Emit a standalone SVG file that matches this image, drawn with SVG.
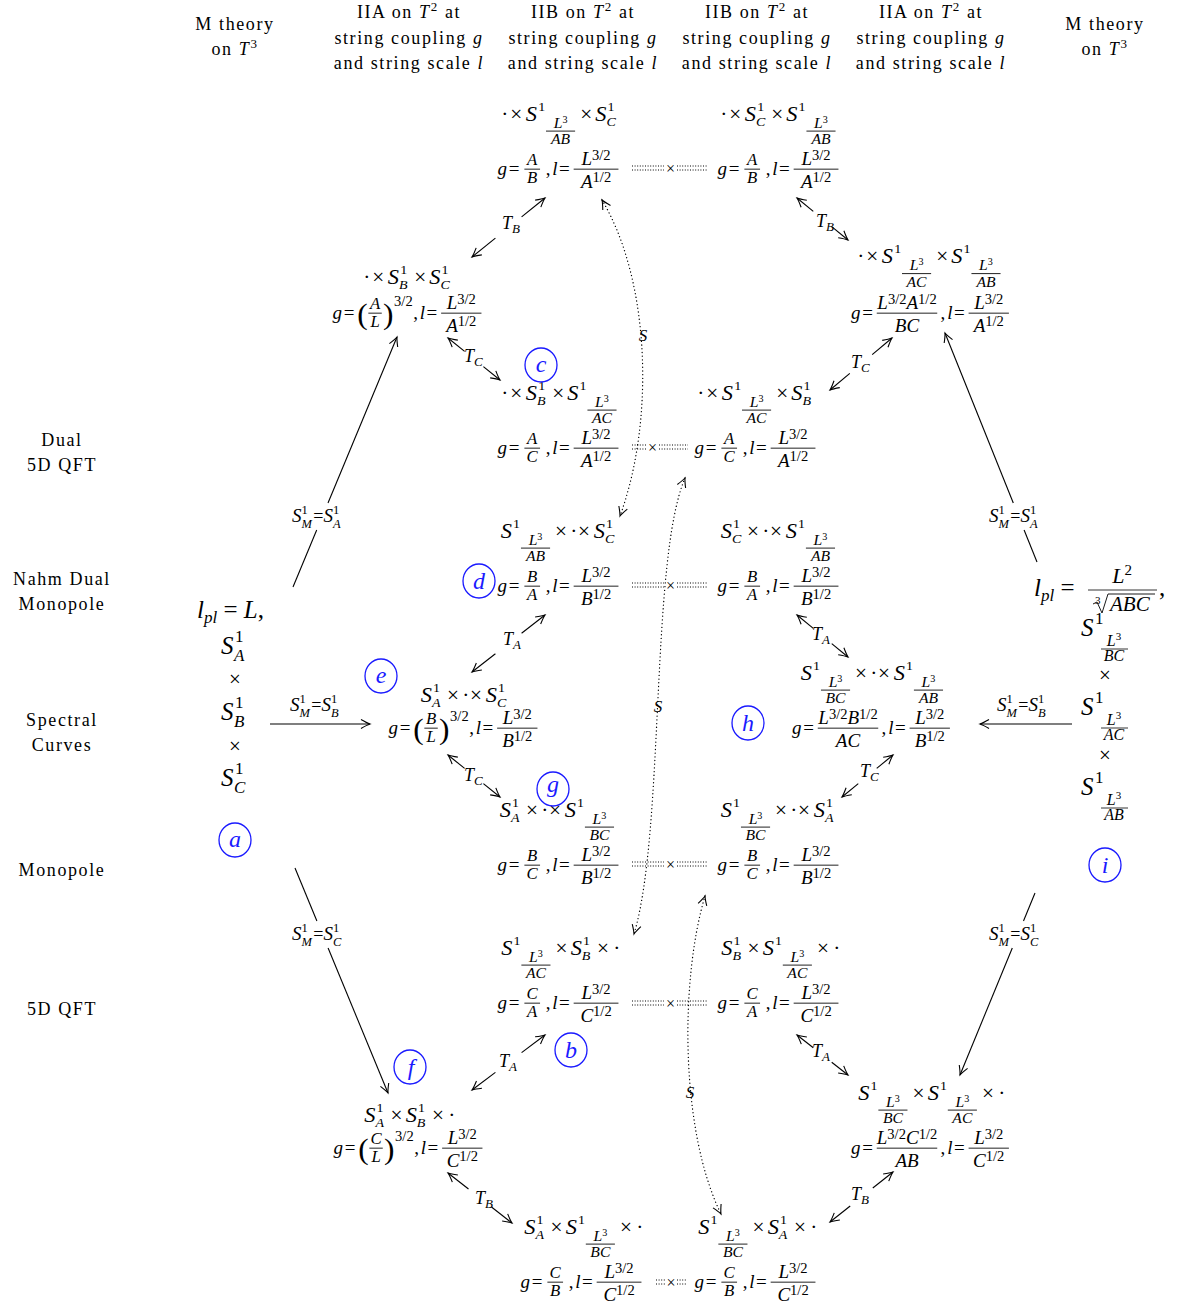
<svg xmlns="http://www.w3.org/2000/svg" width="1186" height="1309" viewBox="0 0 1186 1309">
<style>
text{font-family:"Liberation Serif","Times New Roman",serif;fill:#000}
.hd{font-size:18px;letter-spacing:1.6px;text-anchor:middle}
.it{font-style:italic}
.hs{font-size:13px}
.m{font-size:20px;font-style:italic}
.o{font-size:19px}
.p{font-size:12.5px}
.q{font-size:12.5px;font-style:italic}
.fn{font-size:14px;font-style:italic;text-anchor:middle}
.t{font-size:9px;font-style:normal}
.g{font-size:17px;font-style:italic}
.e{font-size:17px}
.sf{font-size:15px;font-style:italic;text-anchor:middle}
.bf{font-size:17px;font-style:italic;text-anchor:middle}
.h{font-size:13px;font-style:normal}
.pa{font-size:28px}
.fb{stroke:#000;stroke-width:0.8}
.ar{fill:none;stroke:#000;stroke-width:1.1}
.sd{fill:none;stroke:#000;stroke-width:1.3;stroke-dasharray:0.1 3.6;stroke-linecap:round}
.dd{stroke:#000;stroke-width:1;stroke-dasharray:1 1.6}
.dx{font-size:16px;text-anchor:middle}
.tl{font-size:18px;font-style:italic}
.ts{font-size:13px}
.ml{font-size:19px;font-style:italic}
.mp{font-size:12.5px;font-style:normal}
.mq{font-size:12.5px}
.me{font-size:18px;font-style:normal}
.sl{font-size:17px;font-style:italic;text-anchor:middle}
.lm{font-size:25px;font-style:italic}
.ls{font-size:17px}
.up{font-style:normal}
.ms{font-size:25px;font-style:italic}
.ps{font-size:17px}
.qs{font-size:17px;font-style:italic}
.xs{font-size:21px;text-anchor:middle}
.rf{font-size:16px;font-style:italic;text-anchor:middle}
.rt{font-size:11px;font-style:normal}
.cl ellipse{fill:none;stroke:#1a1aff;stroke-width:1.3}
.cl text{fill:#1a1aff;font-size:24px;font-style:italic;text-anchor:middle}
</style>
<defs>
<marker id="ah" viewBox="-10 -6 12 12" refX="0" refY="0" markerWidth="12" markerHeight="12" markerUnits="userSpaceOnUse" orient="auto-start-reverse"><path d="M-9,-4.5 Q-3,-1 0,0 Q-3,1 -9,4.5" fill="none" stroke="#000" stroke-width="1.1"/></marker>
</defs>

<g id="header">
<text class="hd" x="235" y="30">M theory</text>
<text class="hd" x="235" y="55">on <tspan class="it">T</tspan><tspan class="hs" dy="-7">3</tspan></text>
<text class="hd" x="409" y="18">IIA on <tspan class="it">T</tspan><tspan class="hs" dy="-7">2</tspan><tspan dy="7"> at</tspan></text>
<text class="hd" x="409" y="44">string coupling <tspan class="it">g</tspan></text>
<text class="hd" x="409" y="69">and string scale <tspan class="it">l</tspan></text>
<text class="hd" x="583" y="18">IIB on <tspan class="it">T</tspan><tspan class="hs" dy="-7">2</tspan><tspan dy="7"> at</tspan></text>
<text class="hd" x="583" y="44">string coupling <tspan class="it">g</tspan></text>
<text class="hd" x="583" y="69">and string scale <tspan class="it">l</tspan></text>
<text class="hd" x="757" y="18">IIB on <tspan class="it">T</tspan><tspan class="hs" dy="-7">2</tspan><tspan dy="7"> at</tspan></text>
<text class="hd" x="757" y="44">string coupling <tspan class="it">g</tspan></text>
<text class="hd" x="757" y="69">and string scale <tspan class="it">l</tspan></text>
<text class="hd" x="931" y="18">IIA on <tspan class="it">T</tspan><tspan class="hs" dy="-7">2</tspan><tspan dy="7"> at</tspan></text>
<text class="hd" x="931" y="44">string coupling <tspan class="it">g</tspan></text>
<text class="hd" x="931" y="69">and string scale <tspan class="it">l</tspan></text>
<text class="hd" x="1105" y="30">M theory</text>
<text class="hd" x="1105" y="55">on <tspan class="it">T</tspan><tspan class="hs" dy="-7">3</tspan></text>
</g>

<g id="row-labels">
<text class="hd" x="62" y="446">Dual</text>
<text class="hd" x="62" y="471">5D QFT</text>
<text class="hd" x="62" y="585">Nahm Dual</text>
<text class="hd" x="62" y="610">Monopole</text>
<text class="hd" x="62" y="726">Spectral</text>
<text class="hd" x="62" y="751">Curves</text>
<text class="hd" x="62" y="876">Monopole</text>
<text class="hd" x="62" y="1015">5D QFT</text>
</g>

<g id="connectors">
<path class="ar" d="M293,587 L316.7,530"/>
<path class="ar" marker-end="url(#ah)" d="M328,503 L397,337"/>
<path class="ar" d="M295,868 L316.9,921"/>
<path class="ar" marker-end="url(#ah)" d="M328.1,948 L388,1093"/>
<path class="ar" marker-end="url(#ah)" d="M270,724 L370,724"/>
<path class="ar" d="M1037,562 L1024.1,530"/>
<path class="ar" marker-end="url(#ah)" d="M1013.3,503 L945,333"/>
<path class="ar" marker-end="url(#ah)" d="M1072,724 L980,724"/>
<path class="ar" d="M1035,893 L1023.5,921"/>
<path class="ar" marker-end="url(#ah)" d="M1012.3,948 L960,1075"/>
<text class="ml" x="292" y="522">S<tspan class="mp" dy="-8">1</tspan><tspan class="mq" dx="-6.3" dy="14">M</tspan><tspan class="me" dx="1.5" dy="-6">=</tspan>S<tspan class="mp" dy="-8">1</tspan><tspan class="mq" dx="-6.3" dy="14">A</tspan></text>
<text class="ml" x="292" y="940">S<tspan class="mp" dy="-8">1</tspan><tspan class="mq" dx="-6.3" dy="14">M</tspan><tspan class="me" dx="1.5" dy="-6">=</tspan>S<tspan class="mp" dy="-8">1</tspan><tspan class="mq" dx="-6.3" dy="14">C</tspan></text>
<text class="ml" x="290" y="711">S<tspan class="mp" dy="-8">1</tspan><tspan class="mq" dx="-6.3" dy="14">M</tspan><tspan class="me" dx="1.5" dy="-6">=</tspan>S<tspan class="mp" dy="-8">1</tspan><tspan class="mq" dx="-6.3" dy="14">B</tspan></text>
<text class="ml" x="989" y="522">S<tspan class="mp" dy="-8">1</tspan><tspan class="mq" dx="-6.3" dy="14">M</tspan><tspan class="me" dx="1.5" dy="-6">=</tspan>S<tspan class="mp" dy="-8">1</tspan><tspan class="mq" dx="-6.3" dy="14">A</tspan></text>
<text class="ml" x="997" y="711">S<tspan class="mp" dy="-8">1</tspan><tspan class="mq" dx="-6.3" dy="14">M</tspan><tspan class="me" dx="1.5" dy="-6">=</tspan>S<tspan class="mp" dy="-8">1</tspan><tspan class="mq" dx="-6.3" dy="14">B</tspan></text>
<text class="ml" x="989" y="940">S<tspan class="mp" dy="-8">1</tspan><tspan class="mq" dx="-6.3" dy="14">M</tspan><tspan class="me" dx="1.5" dy="-6">=</tspan>S<tspan class="mp" dy="-8">1</tspan><tspan class="mq" dx="-6.3" dy="14">C</tspan></text>

<path class="ar" marker-start="url(#ah)" d="M472,257 L495.4,238.1"/><path class="ar" marker-end="url(#ah)" d="M521.6,216.9 L545,198"/>
<text class="tl" x="502" y="229">T<tspan class="ts" dy="4">B</tspan></text>
<path class="ar" marker-start="url(#ah)" d="M797,198 L813.3,211.4"/><path class="ar" marker-end="url(#ah)" d="M831.7,226.6 L848,240"/>
<text class="tl" x="816" y="227">T<tspan class="ts" dy="4">B</tspan></text>
<path class="ar" marker-start="url(#ah)" d="M448,338 L464.6,351.4"/><path class="ar" marker-end="url(#ah)" d="M483.4,366.6 L500,380"/>
<text class="tl" x="464" y="362">T<tspan class="ts" dy="4">C</tspan></text>
<path class="ar" marker-start="url(#ah)" d="M830,390 L849.8,373.4"/><path class="ar" marker-end="url(#ah)" d="M872.2,354.6 L892,338"/>
<text class="tl" x="851" y="368">T<tspan class="ts" dy="4">C</tspan></text>
<path class="ar" marker-start="url(#ah)" d="M472,672 L495.4,653.8"/><path class="ar" marker-end="url(#ah)" d="M521.6,633.2 L545,615"/>
<text class="tl" x="503" y="645">T<tspan class="ts" dy="4">A</tspan></text>
<path class="ar" marker-start="url(#ah)" d="M797,615 L813.3,628.4"/><path class="ar" marker-end="url(#ah)" d="M831.7,643.6 L848,657"/>
<text class="tl" x="812" y="640">T<tspan class="ts" dy="4">A</tspan></text>
<path class="ar" marker-start="url(#ah)" d="M448,755 L464.6,768.4"/><path class="ar" marker-end="url(#ah)" d="M483.4,783.6 L500,797"/>
<text class="tl" x="464" y="781">T<tspan class="ts" dy="4">C</tspan></text>
<path class="ar" marker-start="url(#ah)" d="M842,797 L858.3,783.6"/><path class="ar" marker-end="url(#ah)" d="M876.7,768.4 L893,755"/>
<text class="tl" x="860" y="777">T<tspan class="ts" dy="4">C</tspan></text>
<path class="ar" marker-start="url(#ah)" d="M472,1090 L495.4,1072.4"/><path class="ar" marker-end="url(#ah)" d="M521.6,1052.6 L545,1035"/>
<text class="tl" x="499" y="1067">T<tspan class="ts" dy="4">A</tspan></text>
<path class="ar" marker-start="url(#ah)" d="M797,1035 L813.3,1047.8"/><path class="ar" marker-end="url(#ah)" d="M831.7,1062.2 L848,1075"/>
<text class="tl" x="812" y="1057">T<tspan class="ts" dy="4">A</tspan></text>
<path class="ar" marker-start="url(#ah)" d="M448,1173 L468.5,1189"/><path class="ar" marker-end="url(#ah)" d="M491.5,1207 L512,1223"/>
<text class="tl" x="475" y="1204">T<tspan class="ts" dy="4">B</tspan></text>
<path class="ar" marker-start="url(#ah)" d="M830,1222 L850.2,1206"/><path class="ar" marker-end="url(#ah)" d="M872.8,1188 L893,1172"/>
<text class="tl" x="851" y="1200">T<tspan class="ts" dy="4">B</tspan></text>

<path class="sd" marker-start="url(#ah)" marker-end="url(#ah)" d="M602,200 C650,280 655,420 620,516"/>
<text class="sl" x="643" y="341">S</text>
<path class="sd" marker-start="url(#ah)" marker-end="url(#ah)" d="M685,478 C650,560 665,830 634,934"/>
<text class="sl" x="658" y="712">S</text>
<path class="sd" marker-start="url(#ah)" marker-end="url(#ah)" d="M705,896 C680,980 680,1130 721,1214"/>
<text class="sl" x="690" y="1098">S</text>

<line class="dd" x1="632" x2="664" y1="166" y2="166"/><line class="dd" x1="632" x2="664" y1="170" y2="170"/><line class="dd" x1="677" x2="708" y1="166" y2="166"/><line class="dd" x1="677" x2="708" y1="170" y2="170"/><text class="dx" x="670.5" y="173.5">×</text>
<line class="dd" x1="632" x2="646" y1="445" y2="445"/><line class="dd" x1="632" x2="646" y1="449" y2="449"/><line class="dd" x1="659" x2="688" y1="445" y2="445"/><line class="dd" x1="659" x2="688" y1="449" y2="449"/><text class="dx" x="652.5" y="452.5">×</text>
<line class="dd" x1="632" x2="664" y1="583" y2="583"/><line class="dd" x1="632" x2="664" y1="587" y2="587"/><line class="dd" x1="677" x2="708" y1="583" y2="583"/><line class="dd" x1="677" x2="708" y1="587" y2="587"/><text class="dx" x="670.5" y="590.5">×</text>
<line class="dd" x1="632" x2="664" y1="862" y2="862"/><line class="dd" x1="632" x2="664" y1="866" y2="866"/><line class="dd" x1="677" x2="708" y1="862" y2="862"/><line class="dd" x1="677" x2="708" y1="866" y2="866"/><text class="dx" x="670.5" y="869.5">×</text>
<line class="dd" x1="632" x2="664" y1="1001" y2="1001"/><line class="dd" x1="632" x2="664" y1="1005" y2="1005"/><line class="dd" x1="677" x2="708" y1="1001" y2="1001"/><line class="dd" x1="677" x2="708" y1="1005" y2="1005"/><text class="dx" x="670.5" y="1008.5">×</text>
<line class="dd" x1="656" x2="665" y1="1280" y2="1280"/><line class="dd" x1="656" x2="665" y1="1284" y2="1284"/><line class="dd" x1="677" x2="686" y1="1280" y2="1280"/><line class="dd" x1="677" x2="686" y1="1284" y2="1284"/><text class="dx" x="671" y="1287.5">×</text>
</g>

<g id="m-left">
<text class="lm" x="197" y="618">l<tspan class="ls" dy="5">pl</tspan><tspan class="up" dy="-5"> = </tspan>L<tspan class="up">,</tspan></text>
<text class="ms" x="221" y="654">S</text><text class="ps" x="235" y="642">1</text><text class="qs" x="234" y="661">A</text>
<text class="xs" x="235" y="686">×</text>
<text class="ms" x="221" y="720">S</text><text class="ps" x="235" y="708">1</text><text class="qs" x="234" y="727">B</text>
<text class="xs" x="235" y="753">×</text>
<text class="ms" x="221" y="786">S</text><text class="ps" x="235" y="774">1</text><text class="qs" x="234" y="793">C</text>
</g>

<g id="m-right">
<text class="lm" x="1034" y="596">l<tspan class="ls" dy="5">pl</tspan><tspan class="up" dy="-5"> = </tspan></text>
<text class="lm" x="1122" y="583" style="font-size:22px;text-anchor:middle">L<tspan class="up" style="font-size:15px" dy="-8">2</tspan></text>
<line class="fb" x1="1088" x2="1157" y1="590" y2="590"/>
<text x="1095" y="604" style="font-size:11px">3</text>
<path d="M1093,604 L1097,602 L1102,613 L1108,594 L1155,594" fill="none" stroke="#000" stroke-width="0.9"/>
<text x="1110" y="611" style="font-size:21px;font-style:italic">ABC</text>
<text x="1159" y="596" style="font-size:25px">,</text>
<text class="ms" x="1081" y="636">S</text><text class="ps" x="1095" y="624">1</text><text class="rf" x="1114" y="646">L<tspan class="rt" dy="-6">3</tspan></text><line class="fb" x1="1101" x2="1128" y1="649" y2="649"/><text class="rf" x="1114" y="661">BC</text>
<text class="xs" x="1105" y="682">×</text>
<text class="ms" x="1081" y="715">S</text><text class="ps" x="1095" y="703">1</text><text class="rf" x="1114" y="725">L<tspan class="rt" dy="-6">3</tspan></text><line class="fb" x1="1101" x2="1128" y1="728" y2="728"/><text class="rf" x="1114" y="740">AC</text>
<text class="xs" x="1105" y="762">×</text>
<text class="ms" x="1081" y="795">S</text><text class="ps" x="1095" y="783">1</text><text class="rf" x="1114" y="805">L<tspan class="rt" dy="-6">3</tspan></text><line class="fb" x1="1101" x2="1128" y1="808" y2="808"/><text class="rf" x="1114" y="820">AB</text>
</g>

<g id="n-iib-top-1">
<g transform="translate(501.2,120.5) scale(1.12,1.06)">
<text class="o" x="0">·</text><text class="o" x="8">×</text>
<text class="m" x="22">S</text><text class="p" x="33" y="-9">1</text><text class="fn" x="53" y="7">L<tspan class="t" dy="-5">3</tspan></text><line class="fb" x1="40" x2="66" y1="10" y2="10"/><text class="fn" x="53" y="22.5">AB</text>
<text class="o" x="70.5">×</text>
<text class="m" x="84">S</text><text class="p" x="95" y="-9">1</text><text class="q" x="94" y="5">C</text>
</g>
<g transform="translate(497.5,175) scale(1.12,1.06)">
<text class="g" x="0">g</text><text class="e" x="10">=</text>
<text class="sf" x="31" y="-9">A</text><line class="fb" x1="24" x2="38" y1="-5.5" y2="-5.5"/><text class="sf" x="31" y="7.5">B</text>
<text class="e" x="43">,</text><text class="g" x="49">l</text><text class="e" x="55">=</text>
<text class="bf" x="88" y="-9">L<tspan class="h" dy="-5">3/2</tspan></text><line class="fb" x1="68" x2="108" y1="-5.5" y2="-5.5"/><text class="bf" x="88" y="12">A<tspan class="h" dy="-5">1/2</tspan></text>
</g>
</g>

<g id="n-iib-top-2">
<g transform="translate(720.2,120.5) scale(1.12,1.06)">
<text class="o" x="0">·</text><text class="o" x="8">×</text>
<text class="m" x="22">S</text><text class="p" x="33" y="-9">1</text><text class="q" x="32" y="5">C</text>
<text class="o" x="45.5">×</text>
<text class="m" x="59">S</text><text class="p" x="70" y="-9">1</text><text class="fn" x="90" y="7">L<tspan class="t" dy="-5">3</tspan></text><line class="fb" x1="77" x2="103" y1="10" y2="10"/><text class="fn" x="90" y="22.5">AB</text>
</g>
<g transform="translate(717.5,175) scale(1.12,1.06)">
<text class="g" x="0">g</text><text class="e" x="10">=</text>
<text class="sf" x="31" y="-9">A</text><line class="fb" x1="24" x2="38" y1="-5.5" y2="-5.5"/><text class="sf" x="31" y="7.5">B</text>
<text class="e" x="43">,</text><text class="g" x="49">l</text><text class="e" x="55">=</text>
<text class="bf" x="88" y="-9">L<tspan class="h" dy="-5">3/2</tspan></text><line class="fb" x1="68" x2="108" y1="-5.5" y2="-5.5"/><text class="bf" x="88" y="12">A<tspan class="h" dy="-5">1/2</tspan></text>
</g>
</g>

<g id="n-iia-top-left">
<g transform="translate(363.2,284) scale(1.12,1.06)">
<text class="o" x="0">·</text><text class="o" x="8">×</text>
<text class="m" x="22">S</text><text class="p" x="33" y="-9">1</text><text class="q" x="32" y="5">B</text>
<text class="o" x="45.5">×</text>
<text class="m" x="59">S</text><text class="p" x="70" y="-9">1</text><text class="q" x="69" y="5">C</text>
</g>
<g transform="translate(332.5,319) scale(1.12,1.06)">
<text class="g" x="0">g</text><text class="e" x="10">=</text>
<text class="pa" x="22" y="5">(</text>
<text class="sf" x="38" y="-9">A</text><line class="fb" x1="32" x2="44" y1="-5.5" y2="-5.5"/><text class="sf" x="38" y="7.5">L</text>
<text class="pa" x="45" y="5">)</text>
<text class="h" x="55" y="-12">3/2</text>
<text class="e" x="72">,</text><text class="g" x="78">l</text><text class="e" x="84">=</text>
<text class="bf" x="115" y="-9">L<tspan class="h" dy="-5">3/2</tspan></text><line class="fb" x1="97" x2="133" y1="-5.5" y2="-5.5"/><text class="bf" x="115" y="12">A<tspan class="h" dy="-5">1/2</tspan></text>
</g>
</g>

<g id="n-iia-top-right">
<g transform="translate(857.2,263) scale(1.12,1.06)">
<text class="o" x="0">·</text><text class="o" x="8">×</text>
<text class="m" x="22">S</text><text class="p" x="33" y="-9">1</text><text class="fn" x="53" y="7">L<tspan class="t" dy="-5">3</tspan></text><line class="fb" x1="40" x2="66" y1="10" y2="10"/><text class="fn" x="53" y="22.5">AC</text>
<text class="o" x="70.5">×</text>
<text class="m" x="84">S</text><text class="p" x="95" y="-9">1</text><text class="fn" x="115" y="7">L<tspan class="t" dy="-5">3</tspan></text><line class="fb" x1="102" x2="128" y1="10" y2="10"/><text class="fn" x="115" y="22.5">AB</text>
</g>
<g transform="translate(851,319) scale(1.12,1.06)">
<text class="g" x="0">g</text><text class="e" x="10">=</text>
<text class="bf" x="50" y="-9">L<tspan class="h" dy="-5">3/2</tspan><tspan dy="5">A</tspan><tspan class="h" dy="-5">1/2</tspan></text><line class="fb" x1="23" x2="77" y1="-5.5" y2="-5.5"/><text class="bf" x="50" y="12">BC</text>
<text class="e" x="80">,</text><text class="g" x="86">l</text><text class="e" x="92">=</text>
<text class="bf" x="123" y="-9">L<tspan class="h" dy="-5">3/2</tspan></text><line class="fb" x1="105" x2="141" y1="-5.5" y2="-5.5"/><text class="bf" x="123" y="12">A<tspan class="h" dy="-5">1/2</tspan></text>
</g>
</g>

<g id="n-c-left">
<g transform="translate(501.2,399.5) scale(1.12,1.06)">
<text class="o" x="0">·</text><text class="o" x="8">×</text>
<text class="m" x="22">S</text><text class="p" x="33" y="-9">1</text><text class="q" x="32" y="5">B</text>
<text class="o" x="45.5">×</text>
<text class="m" x="59">S</text><text class="p" x="70" y="-9">1</text><text class="fn" x="90" y="7">L<tspan class="t" dy="-5">3</tspan></text><line class="fb" x1="77" x2="103" y1="10" y2="10"/><text class="fn" x="90" y="22.5">AC</text>
</g>
<g transform="translate(497.5,454) scale(1.12,1.06)">
<text class="g" x="0">g</text><text class="e" x="10">=</text>
<text class="sf" x="31" y="-9">A</text><line class="fb" x1="24" x2="38" y1="-5.5" y2="-5.5"/><text class="sf" x="31" y="7.5">C</text>
<text class="e" x="43">,</text><text class="g" x="49">l</text><text class="e" x="55">=</text>
<text class="bf" x="88" y="-9">L<tspan class="h" dy="-5">3/2</tspan></text><line class="fb" x1="68" x2="108" y1="-5.5" y2="-5.5"/><text class="bf" x="88" y="12">A<tspan class="h" dy="-5">1/2</tspan></text>
</g>
</g>

<g id="n-c-right">
<g transform="translate(697.2,399.5) scale(1.12,1.06)">
<text class="o" x="0">·</text><text class="o" x="8">×</text>
<text class="m" x="22">S</text><text class="p" x="33" y="-9">1</text><text class="fn" x="53" y="7">L<tspan class="t" dy="-5">3</tspan></text><line class="fb" x1="40" x2="66" y1="10" y2="10"/><text class="fn" x="53" y="22.5">AC</text>
<text class="o" x="70.5">×</text>
<text class="m" x="84">S</text><text class="p" x="95" y="-9">1</text><text class="q" x="94" y="5">B</text>
</g>
<g transform="translate(694.5,454) scale(1.12,1.06)">
<text class="g" x="0">g</text><text class="e" x="10">=</text>
<text class="sf" x="31" y="-9">A</text><line class="fb" x1="24" x2="38" y1="-5.5" y2="-5.5"/><text class="sf" x="31" y="7.5">C</text>
<text class="e" x="43">,</text><text class="g" x="49">l</text><text class="e" x="55">=</text>
<text class="bf" x="88" y="-9">L<tspan class="h" dy="-5">3/2</tspan></text><line class="fb" x1="68" x2="108" y1="-5.5" y2="-5.5"/><text class="bf" x="88" y="12">A<tspan class="h" dy="-5">1/2</tspan></text>
</g>
</g>

<g id="n-d-left">
<g transform="translate(500.8,537.5) scale(1.12,1.06)">
<text class="m" x="0">S</text><text class="p" x="11" y="-9">1</text><text class="fn" x="31" y="7">L<tspan class="t" dy="-5">3</tspan></text><line class="fb" x1="18" x2="44" y1="10" y2="10"/><text class="fn" x="31" y="22.5">AB</text>
<text class="o" x="48.5">×</text><text class="o" x="62">·</text><text class="o" x="69">×</text>
<text class="m" x="83">S</text><text class="p" x="94" y="-9">1</text><text class="q" x="93" y="5">C</text>
</g>
<g transform="translate(497.5,592) scale(1.12,1.06)">
<text class="g" x="0">g</text><text class="e" x="10">=</text>
<text class="sf" x="31" y="-9">B</text><line class="fb" x1="24" x2="38" y1="-5.5" y2="-5.5"/><text class="sf" x="31" y="7.5">A</text>
<text class="e" x="43">,</text><text class="g" x="49">l</text><text class="e" x="55">=</text>
<text class="bf" x="88" y="-9">L<tspan class="h" dy="-5">3/2</tspan></text><line class="fb" x1="68" x2="108" y1="-5.5" y2="-5.5"/><text class="bf" x="88" y="12">B<tspan class="h" dy="-5">1/2</tspan></text>
</g>
</g>

<g id="n-d-right">
<g transform="translate(720.8,537.5) scale(1.12,1.06)">
<text class="m" x="0">S</text><text class="p" x="11" y="-9">1</text><text class="q" x="10" y="5">C</text>
<text class="o" x="23.5">×</text><text class="o" x="37">·</text><text class="o" x="44">×</text>
<text class="m" x="58">S</text><text class="p" x="69" y="-9">1</text><text class="fn" x="89" y="7">L<tspan class="t" dy="-5">3</tspan></text><line class="fb" x1="76" x2="102" y1="10" y2="10"/><text class="fn" x="89" y="22.5">AB</text>
</g>
<g transform="translate(717.5,592) scale(1.12,1.06)">
<text class="g" x="0">g</text><text class="e" x="10">=</text>
<text class="sf" x="31" y="-9">B</text><line class="fb" x1="24" x2="38" y1="-5.5" y2="-5.5"/><text class="sf" x="31" y="7.5">A</text>
<text class="e" x="43">,</text><text class="g" x="49">l</text><text class="e" x="55">=</text>
<text class="bf" x="88" y="-9">L<tspan class="h" dy="-5">3/2</tspan></text><line class="fb" x1="68" x2="108" y1="-5.5" y2="-5.5"/><text class="bf" x="88" y="12">B<tspan class="h" dy="-5">1/2</tspan></text>
</g>
</g>

<g id="n-iia-mid-left">
<g transform="translate(420.8,702) scale(1.12,1.06)">
<text class="m" x="0">S</text><text class="p" x="11" y="-9">1</text><text class="q" x="10" y="5">A</text>
<text class="o" x="23.5">×</text><text class="o" x="37">·</text><text class="o" x="44">×</text>
<text class="m" x="58">S</text><text class="p" x="69" y="-9">1</text><text class="q" x="68" y="5">C</text>
</g>
<g transform="translate(388.5,734) scale(1.12,1.06)">
<text class="g" x="0">g</text><text class="e" x="10">=</text>
<text class="pa" x="22" y="5">(</text>
<text class="sf" x="38" y="-9">B</text><line class="fb" x1="32" x2="44" y1="-5.5" y2="-5.5"/><text class="sf" x="38" y="7.5">L</text>
<text class="pa" x="45" y="5">)</text>
<text class="h" x="55" y="-12">3/2</text>
<text class="e" x="72">,</text><text class="g" x="78">l</text><text class="e" x="84">=</text>
<text class="bf" x="115" y="-9">L<tspan class="h" dy="-5">3/2</tspan></text><line class="fb" x1="97" x2="133" y1="-5.5" y2="-5.5"/><text class="bf" x="115" y="12">B<tspan class="h" dy="-5">1/2</tspan></text>
</g>
</g>

<g id="n-iia-mid-right">
<g transform="translate(800.8,679.5) scale(1.12,1.06)">
<text class="m" x="0">S</text><text class="p" x="11" y="-9">1</text><text class="fn" x="31" y="7">L<tspan class="t" dy="-5">3</tspan></text><line class="fb" x1="18" x2="44" y1="10" y2="10"/><text class="fn" x="31" y="22.5">BC</text>
<text class="o" x="48.5">×</text><text class="o" x="62">·</text><text class="o" x="69">×</text>
<text class="m" x="83">S</text><text class="p" x="94" y="-9">1</text><text class="fn" x="114" y="7">L<tspan class="t" dy="-5">3</tspan></text><line class="fb" x1="101" x2="127" y1="10" y2="10"/><text class="fn" x="114" y="22.5">AB</text>
</g>
<g transform="translate(792,734) scale(1.12,1.06)">
<text class="g" x="0">g</text><text class="e" x="10">=</text>
<text class="bf" x="50" y="-9">L<tspan class="h" dy="-5">3/2</tspan><tspan dy="5">B</tspan><tspan class="h" dy="-5">1/2</tspan></text><line class="fb" x1="23" x2="77" y1="-5.5" y2="-5.5"/><text class="bf" x="50" y="12">AC</text>
<text class="e" x="80">,</text><text class="g" x="86">l</text><text class="e" x="92">=</text>
<text class="bf" x="123" y="-9">L<tspan class="h" dy="-5">3/2</tspan></text><line class="fb" x1="105" x2="141" y1="-5.5" y2="-5.5"/><text class="bf" x="123" y="12">B<tspan class="h" dy="-5">1/2</tspan></text>
</g>
</g>

<g id="n-g-left">
<g transform="translate(499.8,816.5) scale(1.12,1.06)">
<text class="m" x="0">S</text><text class="p" x="11" y="-9">1</text><text class="q" x="10" y="5">A</text>
<text class="o" x="23.5">×</text><text class="o" x="37">·</text><text class="o" x="44">×</text>
<text class="m" x="58">S</text><text class="p" x="69" y="-9">1</text><text class="fn" x="89" y="7">L<tspan class="t" dy="-5">3</tspan></text><line class="fb" x1="76" x2="102" y1="10" y2="10"/><text class="fn" x="89" y="22.5">BC</text>
</g>
<g transform="translate(497.5,871) scale(1.12,1.06)">
<text class="g" x="0">g</text><text class="e" x="10">=</text>
<text class="sf" x="31" y="-9">B</text><line class="fb" x1="24" x2="38" y1="-5.5" y2="-5.5"/><text class="sf" x="31" y="7.5">C</text>
<text class="e" x="43">,</text><text class="g" x="49">l</text><text class="e" x="55">=</text>
<text class="bf" x="88" y="-9">L<tspan class="h" dy="-5">3/2</tspan></text><line class="fb" x1="68" x2="108" y1="-5.5" y2="-5.5"/><text class="bf" x="88" y="12">B<tspan class="h" dy="-5">1/2</tspan></text>
</g>
</g>

<g id="n-g-right">
<g transform="translate(720.8,816.5) scale(1.12,1.06)">
<text class="m" x="0">S</text><text class="p" x="11" y="-9">1</text><text class="fn" x="31" y="7">L<tspan class="t" dy="-5">3</tspan></text><line class="fb" x1="18" x2="44" y1="10" y2="10"/><text class="fn" x="31" y="22.5">BC</text>
<text class="o" x="48.5">×</text><text class="o" x="62">·</text><text class="o" x="69">×</text>
<text class="m" x="83">S</text><text class="p" x="94" y="-9">1</text><text class="q" x="93" y="5">A</text>
</g>
<g transform="translate(717.5,871) scale(1.12,1.06)">
<text class="g" x="0">g</text><text class="e" x="10">=</text>
<text class="sf" x="31" y="-9">B</text><line class="fb" x1="24" x2="38" y1="-5.5" y2="-5.5"/><text class="sf" x="31" y="7.5">C</text>
<text class="e" x="43">,</text><text class="g" x="49">l</text><text class="e" x="55">=</text>
<text class="bf" x="88" y="-9">L<tspan class="h" dy="-5">3/2</tspan></text><line class="fb" x1="68" x2="108" y1="-5.5" y2="-5.5"/><text class="bf" x="88" y="12">B<tspan class="h" dy="-5">1/2</tspan></text>
</g>
</g>

<g id="n-b-left">
<g transform="translate(501.2,954.5) scale(1.12,1.06)">
<text class="m" x="0">S</text><text class="p" x="11" y="-9">1</text><text class="fn" x="31" y="7">L<tspan class="t" dy="-5">3</tspan></text><line class="fb" x1="18" x2="44" y1="10" y2="10"/><text class="fn" x="31" y="22.5">AC</text>
<text class="o" x="48.5">×</text>
<text class="m" x="62">S</text><text class="p" x="73" y="-9">1</text><text class="q" x="72" y="5">B</text>
<text class="o" x="85.5">×</text><text class="o" x="100">·</text>
</g>
<g transform="translate(497.5,1009) scale(1.12,1.06)">
<text class="g" x="0">g</text><text class="e" x="10">=</text>
<text class="sf" x="31" y="-9">C</text><line class="fb" x1="24" x2="38" y1="-5.5" y2="-5.5"/><text class="sf" x="31" y="7.5">A</text>
<text class="e" x="43">,</text><text class="g" x="49">l</text><text class="e" x="55">=</text>
<text class="bf" x="88" y="-9">L<tspan class="h" dy="-5">3/2</tspan></text><line class="fb" x1="68" x2="108" y1="-5.5" y2="-5.5"/><text class="bf" x="88" y="12">C<tspan class="h" dy="-5">1/2</tspan></text>
</g>
</g>

<g id="n-b-right">
<g transform="translate(721.2,954.5) scale(1.12,1.06)">
<text class="m" x="0">S</text><text class="p" x="11" y="-9">1</text><text class="q" x="10" y="5">B</text>
<text class="o" x="23.5">×</text>
<text class="m" x="37">S</text><text class="p" x="48" y="-9">1</text><text class="fn" x="68" y="7">L<tspan class="t" dy="-5">3</tspan></text><line class="fb" x1="55" x2="81" y1="10" y2="10"/><text class="fn" x="68" y="22.5">AC</text>
<text class="o" x="85.5">×</text><text class="o" x="100">·</text>
</g>
<g transform="translate(717.5,1009) scale(1.12,1.06)">
<text class="g" x="0">g</text><text class="e" x="10">=</text>
<text class="sf" x="31" y="-9">C</text><line class="fb" x1="24" x2="38" y1="-5.5" y2="-5.5"/><text class="sf" x="31" y="7.5">A</text>
<text class="e" x="43">,</text><text class="g" x="49">l</text><text class="e" x="55">=</text>
<text class="bf" x="88" y="-9">L<tspan class="h" dy="-5">3/2</tspan></text><line class="fb" x1="68" x2="108" y1="-5.5" y2="-5.5"/><text class="bf" x="88" y="12">C<tspan class="h" dy="-5">1/2</tspan></text>
</g>
</g>

<g id="n-iia-bot-left">
<g transform="translate(364.2,1122) scale(1.12,1.06)">
<text class="m" x="0">S</text><text class="p" x="11" y="-9">1</text><text class="q" x="10" y="5">A</text>
<text class="o" x="23.5">×</text>
<text class="m" x="37">S</text><text class="p" x="48" y="-9">1</text><text class="q" x="47" y="5">B</text>
<text class="o" x="60.5">×</text><text class="o" x="75">·</text>
</g>
<g transform="translate(333.5,1154) scale(1.12,1.06)">
<text class="g" x="0">g</text><text class="e" x="10">=</text>
<text class="pa" x="22" y="5">(</text>
<text class="sf" x="38" y="-9">C</text><line class="fb" x1="32" x2="44" y1="-5.5" y2="-5.5"/><text class="sf" x="38" y="7.5">L</text>
<text class="pa" x="45" y="5">)</text>
<text class="h" x="55" y="-12">3/2</text>
<text class="e" x="72">,</text><text class="g" x="78">l</text><text class="e" x="84">=</text>
<text class="bf" x="115" y="-9">L<tspan class="h" dy="-5">3/2</tspan></text><line class="fb" x1="97" x2="133" y1="-5.5" y2="-5.5"/><text class="bf" x="115" y="12">C<tspan class="h" dy="-5">1/2</tspan></text>
</g>
</g>

<g id="n-iia-bot-right">
<g transform="translate(858.2,1099.5) scale(1.12,1.06)">
<text class="m" x="0">S</text><text class="p" x="11" y="-9">1</text><text class="fn" x="31" y="7">L<tspan class="t" dy="-5">3</tspan></text><line class="fb" x1="18" x2="44" y1="10" y2="10"/><text class="fn" x="31" y="22.5">BC</text>
<text class="o" x="48.5">×</text>
<text class="m" x="62">S</text><text class="p" x="73" y="-9">1</text><text class="fn" x="93" y="7">L<tspan class="t" dy="-5">3</tspan></text><line class="fb" x1="80" x2="106" y1="10" y2="10"/><text class="fn" x="93" y="22.5">AC</text>
<text class="o" x="110.5">×</text><text class="o" x="125">·</text>
</g>
<g transform="translate(851,1154) scale(1.12,1.06)">
<text class="g" x="0">g</text><text class="e" x="10">=</text>
<text class="bf" x="50" y="-9">L<tspan class="h" dy="-5">3/2</tspan><tspan dy="5">C</tspan><tspan class="h" dy="-5">1/2</tspan></text><line class="fb" x1="23" x2="77" y1="-5.5" y2="-5.5"/><text class="bf" x="50" y="12">AB</text>
<text class="e" x="80">,</text><text class="g" x="86">l</text><text class="e" x="92">=</text>
<text class="bf" x="123" y="-9">L<tspan class="h" dy="-5">3/2</tspan></text><line class="fb" x1="105" x2="141" y1="-5.5" y2="-5.5"/><text class="bf" x="123" y="12">C<tspan class="h" dy="-5">1/2</tspan></text>
</g>
</g>

<g id="n-iib-bot-1">
<g transform="translate(524.2,1233.5) scale(1.12,1.06)">
<text class="m" x="0">S</text><text class="p" x="11" y="-9">1</text><text class="q" x="10" y="5">A</text>
<text class="o" x="23.5">×</text>
<text class="m" x="37">S</text><text class="p" x="48" y="-9">1</text><text class="fn" x="68" y="7">L<tspan class="t" dy="-5">3</tspan></text><line class="fb" x1="55" x2="81" y1="10" y2="10"/><text class="fn" x="68" y="22.5">BC</text>
<text class="o" x="85.5">×</text><text class="o" x="100">·</text>
</g>
<g transform="translate(520.5,1288) scale(1.12,1.06)">
<text class="g" x="0">g</text><text class="e" x="10">=</text>
<text class="sf" x="31" y="-9">C</text><line class="fb" x1="24" x2="38" y1="-5.5" y2="-5.5"/><text class="sf" x="31" y="7.5">B</text>
<text class="e" x="43">,</text><text class="g" x="49">l</text><text class="e" x="55">=</text>
<text class="bf" x="88" y="-9">L<tspan class="h" dy="-5">3/2</tspan></text><line class="fb" x1="68" x2="108" y1="-5.5" y2="-5.5"/><text class="bf" x="88" y="12">C<tspan class="h" dy="-5">1/2</tspan></text>
</g>
</g>

<g id="n-iib-bot-2">
<g transform="translate(698.2,1233.5) scale(1.12,1.06)">
<text class="m" x="0">S</text><text class="p" x="11" y="-9">1</text><text class="fn" x="31" y="7">L<tspan class="t" dy="-5">3</tspan></text><line class="fb" x1="18" x2="44" y1="10" y2="10"/><text class="fn" x="31" y="22.5">BC</text>
<text class="o" x="48.5">×</text>
<text class="m" x="62">S</text><text class="p" x="73" y="-9">1</text><text class="q" x="72" y="5">A</text>
<text class="o" x="85.5">×</text><text class="o" x="100">·</text>
</g>
<g transform="translate(694.5,1288) scale(1.12,1.06)">
<text class="g" x="0">g</text><text class="e" x="10">=</text>
<text class="sf" x="31" y="-9">C</text><line class="fb" x1="24" x2="38" y1="-5.5" y2="-5.5"/><text class="sf" x="31" y="7.5">B</text>
<text class="e" x="43">,</text><text class="g" x="49">l</text><text class="e" x="55">=</text>
<text class="bf" x="88" y="-9">L<tspan class="h" dy="-5">3/2</tspan></text><line class="fb" x1="68" x2="108" y1="-5.5" y2="-5.5"/><text class="bf" x="88" y="12">C<tspan class="h" dy="-5">1/2</tspan></text>
</g>
</g>

<g id="markers-abc" class="cl">
<g id="lbl-a"><ellipse cx="235" cy="840" rx="16" ry="17"/><text x="235" y="847">a</text></g>
<g id="lbl-b"><ellipse cx="571" cy="1050" rx="16" ry="17"/><text x="571" y="1058">b</text></g>
<g id="lbl-c"><ellipse cx="541" cy="365" rx="16" ry="17"/><text x="541" y="372">c</text></g>
<g id="lbl-d"><ellipse cx="479" cy="581" rx="16" ry="17"/><text x="479" y="589">d</text></g>
<g id="lbl-e"><ellipse cx="381" cy="676" rx="16" ry="17"/><text x="381" y="683">e</text></g>
<g id="lbl-f"><ellipse cx="410" cy="1067" rx="16" ry="17"/><text x="411" y="1075">f</text></g>
<g id="lbl-g"><ellipse cx="553" cy="789" rx="16" ry="17"/><text x="553" y="792">g</text></g>
<g id="lbl-h"><ellipse cx="748" cy="723" rx="16" ry="17"/><text x="748" y="731">h</text></g>
<g id="lbl-i"><ellipse cx="1105" cy="865" rx="16" ry="17"/><text x="1105" y="873">i</text></g>
</g>
</svg>
